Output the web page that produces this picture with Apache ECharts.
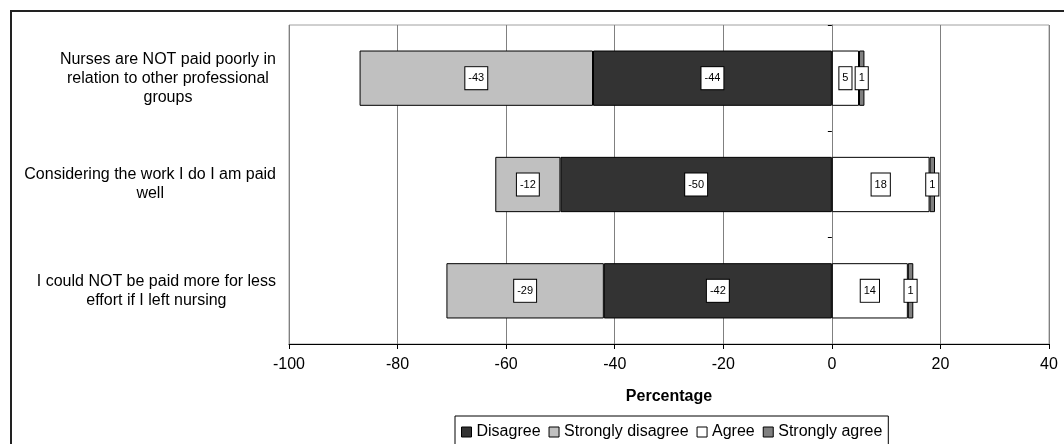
<!DOCTYPE html>
<html><head><meta charset="utf-8">
<script src="https://cdn.jsdelivr.net/npm/echarts@6/dist/echarts.min.js"></script>
<style>html,body{margin:0;padding:0;background:#fff}#c{width:1064px;height:444px}</style>
</head><body><div id="c"></div>
<script>
const categories = [
  'Nurses are NOT paid poorly in\nrelation to other professional\ngroups',
  'Considering the work I do I am paid\nwell',
  'I could NOT be paid more for less\neffort if I left nursing'
];
const seriesNames = ['Disagree', 'Strongly disagree', 'Agree', 'Strongly agree'];
const disagree = [-44, -50, -42];
const stronglyDisagree = [-43, -12, -29];
const agree = [5, 18, 14];
const stronglyAgree = [1, 1, 1];
const xMin = -100, xMax = 40, xStep = 20;

const FONT = 'Liberation Sans, Arial, sans-serif';
const colors = ['#333333', '#c0c0c0', '#ffffff', '#808080'];
const values = [disagree, stronglyDisagree, agree, stronglyAgree];

const chart = echarts.init(document.getElementById('c'), null, {renderer: 'canvas'});

const series = seriesNames.map((name, i) => ({
  name: name,
  type: 'bar',
  stack: 'total',
  yAxisIndex: 0,
  barWidth: '52%',
  data: values[i],
  itemStyle: {color: colors[i], borderColor: '#000', borderWidth: 1},
  label: {
    show: true,
    position: 'inside',
    formatter: '{c}',
    fontFamily: FONT,
    fontSize: 11,
    color: '#000',
    backgroundColor: '#fff',
    borderColor: '#000',
    borderWidth: 1,
    padding: [6, 3, 5, 3]
  },
  emphasis: {disabled: true},
  animation: false
}));

chart.setOption({
  animation: false,
  textStyle: {fontFamily: FONT},
  grid: {left: 289, right: 15, top: 25, bottom: 100, show: true, borderColor: '#a0a0a0', borderWidth: 1, containLabel: false},
  legend: {
    data: seriesNames,
    left: 455, top: 416,
    icon: 'rect',
    itemWidth: 10, itemHeight: 10, itemGap: 8,
    borderColor: '#000', borderWidth: 1,
    padding: [8, 6, 12, 6],
    textStyle: {fontFamily: FONT, fontSize: 16, color: '#000', padding: [0, 0, 0, 0]},
    itemStyle: {borderColor: '#000', borderWidth: 1}
  },
  xAxis: {
    type: 'value',
    min: xMin, max: xMax, interval: xStep,
    name: 'Percentage',
    nameLocation: 'middle',
    nameGap: 45,
    nameTextStyle: {fontFamily: FONT, fontSize: 16, fontWeight: 'bold', color: '#000'},
    axisLine: {show: true, lineStyle: {color: '#000', width: 1}},
    axisTick: {show: true, length: 5, lineStyle: {color: '#000'}},
    axisLabel: {fontFamily: FONT, fontSize: 16, color: '#000', margin: 13},
    splitLine: {show: true, lineStyle: {color: '#808080', width: 1}}
  },
  yAxis: [
    {
      type: 'category',
      data: categories,
      inverse: true,
      axisLine: {show: false, onZero: false},
      axisTick: {show: false},
      splitLine: {show: false},
      axisLabel: {
        margin: 13,
        formatter: v => v.split('\n').map(s => '{a|' + s + '}').join('\n'),
        rich: {a: {align: 'center', fontFamily: FONT, fontSize: 16, lineHeight: 19, color: '#000'}}
      }
    },
    {
      type: 'category',
      data: categories,
      inverse: true,
      position: 'left',
      axisLine: {show: true, onZero: true, lineStyle: {color: '#808080'}},
      axisTick: {show: true, length: 4, inside: false, lineStyle: {color: '#000'}},
      axisLabel: {show: false},
      splitLine: {show: false}
    }
  ],
  graphic: [{
    type: 'rect',
    shape: {x: 11, y: 11, width: 1100, height: 500},
    style: {fill: null, stroke: '#222', lineWidth: 2},
    silent: true, z: 100
  }],
  series: series
});
</script></body></html>
